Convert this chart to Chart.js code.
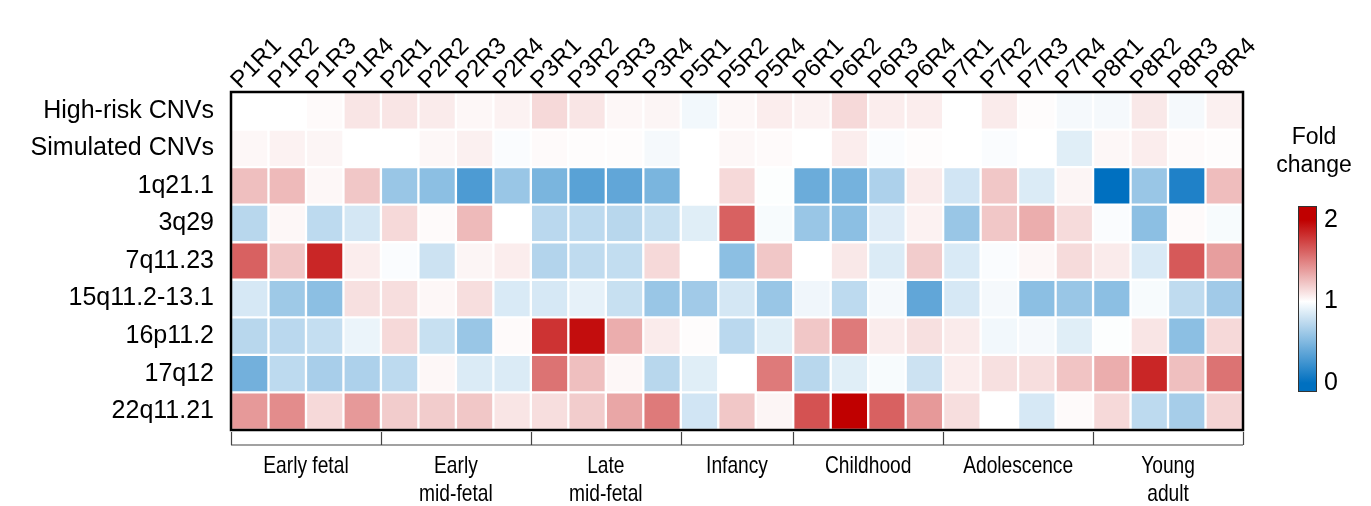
<!DOCTYPE html>
<html>
<head>
<meta charset="utf-8">
<script src="https://cdn.jsdelivr.net/npm/chart.js@4/dist/chart.umd.min.js"></script>
<style>
  html, body { margin: 0; padding: 0; background: #fff; }
</style>
</head>
<body>
<canvas id="heatChart" width="1371" height="506"></canvas>
<script>
// samples (columns) and CNV regions (rows, top to bottom)
const samples = ['P1R1', 'P1R2', 'P1R3', 'P1R4', 'P2R1', 'P2R2', 'P2R3', 'P2R4',
  'P3R1', 'P3R2', 'P3R3', 'P3R4', 'P5R1', 'P5R2', 'P5R4', 'P6R1', 'P6R2', 'P6R3', 'P6R4',
  'P7R1', 'P7R2', 'P7R3', 'P7R4', 'P8R1', 'P8R2', 'P8R3', 'P8R4'];
const regions = ['High-risk CNVs', 'Simulated CNVs', '1q21.1', '3q29', '7q11.23',
  '15q11.2-13.1', '16p11.2', '17q12', '22q11.21'];

// fold change per region, one value per sample
const highRisk   = [1.00, 1.00, 1.02, 1.10, 1.10, 1.08, 1.03, 1.05, 1.15, 1.10, 1.03, 1.04, 0.95, 1.03, 1.07, 1.05, 1.15, 1.07, 1.07, 1.00, 1.08, 1.01, 0.96, 0.96, 1.09, 0.96, 1.06];
const simulated  = [1.03, 1.05, 1.04, 1.00, 1.00, 1.03, 1.06, 0.98, 1.02, 1.01, 1.01, 0.96, 1.00, 1.03, 1.02, 1.00, 1.07, 0.98, 1.01, 1.00, 0.98, 1.00, 0.88, 1.03, 1.07, 1.02, 1.01];
const q1q21      = [1.25, 1.27, 1.03, 1.22, 0.60, 0.55, 0.30, 0.60, 0.48, 0.35, 0.38, 0.48, 1.00, 1.15, 0.99, 0.42, 0.46, 0.68, 1.08, 0.82, 1.22, 0.86, 1.04, 0.00, 0.60, 0.12, 1.26];
const q3q29      = [0.72, 1.03, 0.74, 0.83, 1.15, 1.02, 1.27, 1.00, 0.73, 0.74, 0.72, 0.78, 0.88, 1.62, 0.97, 0.60, 0.55, 0.87, 1.05, 0.60, 1.22, 1.32, 1.14, 0.98, 0.55, 1.02, 0.97];
const q7q11      = [1.62, 1.22, 1.85, 1.07, 0.98, 0.80, 1.04, 1.07, 0.70, 0.75, 0.76, 1.15, 1.00, 0.55, 1.22, 1.00, 1.09, 0.86, 1.20, 0.85, 0.98, 1.03, 1.14, 1.08, 0.85, 1.65, 1.38];
const q15q11     = [0.84, 0.62, 0.55, 1.12, 1.13, 1.03, 1.13, 0.85, 0.84, 0.90, 0.78, 0.60, 0.63, 0.83, 0.60, 0.94, 0.74, 0.96, 0.38, 0.84, 0.96, 0.55, 0.60, 0.55, 0.97, 0.75, 0.63];
const p16p11     = [0.72, 0.73, 0.77, 0.92, 1.15, 0.78, 0.60, 1.02, 1.80, 1.95, 1.32, 1.08, 1.01, 0.73, 0.88, 1.22, 1.52, 1.08, 1.12, 1.08, 0.95, 0.96, 0.88, 0.99, 1.10, 0.55, 1.15];
const q17q12     = [0.45, 0.74, 0.66, 0.68, 0.74, 1.03, 0.86, 0.86, 1.55, 1.25, 1.03, 0.72, 0.88, 1.00, 1.52, 0.72, 0.88, 0.97, 0.80, 1.07, 1.12, 1.13, 1.23, 1.32, 1.85, 1.25, 1.55];
const q22q11     = [1.40, 1.45, 1.15, 1.40, 1.20, 1.20, 1.22, 1.10, 1.13, 1.20, 1.35, 1.52, 0.82, 1.22, 1.04, 1.68, 2.00, 1.62, 1.40, 1.13, 1.00, 0.84, 1.02, 1.15, 0.74, 0.65, 1.17];
const rowValues = [highRisk, simulated, q1q21, q3q29, q7q11, q15q11, p16p11, q17q12, q22q11];

// developmental stages along the bottom
const stageNames = [['Early fetal'], ['Early', 'mid-fetal'], ['Late', 'mid-fetal'], ['Infancy'],
  ['Childhood'], ['Adolescence'], ['Young', 'adult']];
const stageStarts = [0, 4, 8, 12, 15, 19, 23, 27];

const colorTicks = [0, 1, 2];

const RED = [192, 0, 0], BLUE = [0, 112, 192];
function foldColor(v) {
  const t = Math.max(0, Math.min(2, v)) - 1;
  const c = t >= 0 ? RED : BLUE;
  const a = Math.abs(t);
  const mix = (i) => Math.round(255 + (c[i] - 255) * a);
  return `rgb(${mix(0)},${mix(1)},${mix(2)})`;
}

// stacked from the bottom row up
const bottomUp = regions.map((name, i) => ({ name, vals: rowValues[i] })).reverse();
const datasets = bottomUp.map(r => ({
  label: r.name,
  data: samples.map(() => 1),
  backgroundColor: r.vals.map(foldColor),
  borderColor: '#fff',
  borderWidth: 1.5,
  borderSkipped: false,
  barPercentage: 1,
  categoryPercentage: 1
}));

const frame = {
  id: 'frame',
  afterDraw(chart) {
    const { ctx, chartArea: a, scales: { x } } = chart;
    ctx.save();
    ctx.strokeStyle = '#000';
    ctx.lineWidth = 2.5;
    ctx.strokeRect(a.left, a.top, a.right - a.left, a.bottom - a.top);

    // stage brackets
    const half = (x.getPixelForValue(1) - x.getPixelForValue(0)) / 2;
    const edge = (i) => x.getPixelForValue(Math.min(i, samples.length - 1)) + (i >= samples.length ? half : -half);
    ctx.strokeStyle = '#444';
    ctx.lineWidth = 1.2;
    ctx.beginPath();
    ctx.moveTo(edge(0), 445);
    ctx.lineTo(edge(samples.length), 445);
    stageStarts.forEach(s => {
      const px = Math.round(edge(s)) + 0.5;
      ctx.moveTo(px, 432);
      ctx.lineTo(px, 445);
    });
    ctx.stroke();

    // condensed stage labels
    ctx.fillStyle = '#000';
    ctx.font = '24px "Liberation Sans", Arial';
    ctx.textAlign = 'center';
    ctx.textBaseline = 'middle';
    stageNames.forEach((lines, i) => {
      const cx = (edge(stageStarts[i]) + edge(stageStarts[i + 1])) / 2;
      lines.forEach((t, j) => {
        ctx.save();
        ctx.translate(cx, 466 + j * 28);
        ctx.scale(0.8, 1);
        ctx.fillText(t, 0, 0);
        ctx.restore();
      });
    });

    // colour bar
    const bx = 1298, bw = 18, top = 206, bot = 391;
    const y0 = 383, y2 = 220;
    const yOf = (v) => y0 + (y2 - y0) * v / 2;
    const g = ctx.createLinearGradient(0, yOf(2), 0, yOf(0));
    for (let k = 0; k <= 20; k++) g.addColorStop(k / 20, foldColor(2 - k / 10));
    ctx.fillStyle = foldColor(2);
    ctx.fillRect(bx, top, bw, yOf(2) - top);
    ctx.fillStyle = foldColor(0);
    ctx.fillRect(bx, yOf(0), bw, bot - yOf(0));
    ctx.fillStyle = g;
    ctx.fillRect(bx, yOf(2), bw, yOf(0) - yOf(2));
    ctx.strokeStyle = '#333';
    ctx.lineWidth = 1;
    ctx.strokeRect(bx + 0.5, top + 0.5, bw, bot - top);

    ctx.fillStyle = '#000';
    ctx.font = '25px "Liberation Sans", Arial';
    ctx.textAlign = 'left';
    colorTicks.forEach(v => ctx.fillText(String(v), bx + bw + 8, yOf(v)));
    ctx.font = '23px "Liberation Sans", Arial';
    ctx.textAlign = 'center';
    ctx.fillText('Fold', 1314, 138);
    ctx.fillText('change', 1314, 166);
    ctx.restore();
  }
};

new Chart(document.getElementById('heatChart'), {
  type: 'bar',
  data: { labels: samples, datasets },
  options: {
    responsive: false,
    animation: false,
    layout: { padding: { left: 0, top: 0, right: 128, bottom: 76 } },
    plugins: { legend: { display: false }, tooltip: { enabled: false } },
    scales: {
      x: {
        stacked: true,
        position: 'top',
        grid: { display: false },
        border: { display: false },
        ticks: {
          color: '#000',
          font: { family: '"Liberation Sans", Arial', size: 24 },
          minRotation: 45, maxRotation: 45,
          autoSkip: false,
          padding: -11,
          labelOffset: 6
        },
        afterFit(s) { s.height = 92; }
      },
      y: {
        stacked: true,
        min: 0, max: 9,
        grid: { display: false },
        border: { display: false },
        afterBuildTicks(s) { s.ticks = bottomUp.map((_, i) => ({ value: i + 0.5 })); },
        ticks: {
          color: '#000',
          font: { family: '"Liberation Sans", Arial', size: 25 },
          padding: 9,
          autoSkip: false,
          callback: (v, i) => bottomUp[i].name
        },
        afterFit(s) { s.width = 231; }
      }
    }
  },
  plugins: [frame]
});
</script>
</body>
</html>
